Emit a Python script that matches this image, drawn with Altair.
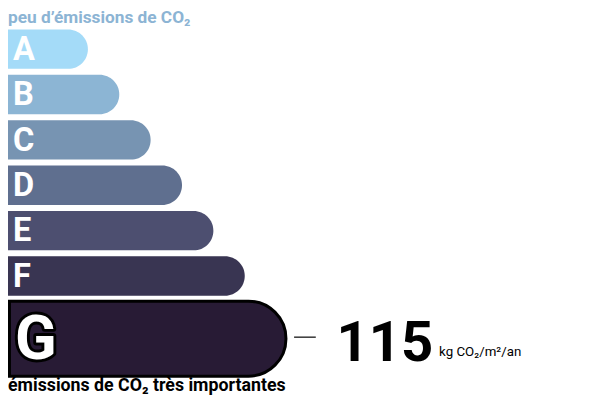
import altair as alt
import pandas as pd

# ---- data ----
classes = ["A", "B", "C", "D", "E", "F", "G"]
ranks = [1, 2, 3, 4, 5, 6, 7]
colors = ["#a4dbf8", "#8cb5d4", "#7794b2", "#5f6f8f", "#4d4f70", "#393552", "#281b35"]
current_class = "G"
current_value = "115"
unit_label = "kg CO₂/m²/an"
top_label = "peu d’émissions de CO₂"
bottom_label = "émissions de CO₂ très importantes"

df = pd.DataFrame({"cls": classes, "rank": ranks, "color": colors})
df_reg = df[df.cls != current_class]
df_cur = df[df.cls == current_class]
df_val = pd.DataFrame({"cls": [current_class], "val": [current_value], "unit": [unit_label]})

FONT = "Roboto"
XMIN, XMAX = -1.547, 17.07

xscale = alt.Scale(domain=[XMIN, XMAX], nice=False, zero=False)
yscale = alt.Scale(domain=classes, range=[16, 338], paddingInner=0, paddingOuter=0)

X = alt.X("rank:Q", scale=xscale, axis=None, stack=None)
Y = alt.Y("cls:N", scale=yscale, axis=None)

bars = alt.Chart(df_reg).mark_bar(
    height=40, cornerRadiusTopRight=20, cornerRadiusBottomRight=20
).encode(
    x=X, x2=alt.datum(XMIN), y=Y,
    color=alt.Color("color:N", scale=None),
)

gbar = alt.Chart(df_cur).mark_bar(
    height=76, yOffset=17.5, x2Offset=1.5, xOffset=10,
    cornerRadiusTopRight=38, cornerRadiusBottomRight=38,
    stroke="#000000", strokeWidth=3,
).encode(
    x=X, x2=alt.datum(XMIN), y=Y,
    color=alt.Color("color:N", scale=None),
)

letters = alt.Chart(df_reg).mark_text(
    font=FONT, fontWeight="bold", fontSize=33, color="white",
    align="left", baseline="middle", dy=1,
).encode(x=alt.value(5), y=Y, text="cls:N")

gletter_outline = alt.Chart(df_cur).mark_text(
    font=FONT, fontWeight="bold", fontSize=62, color="black",
    stroke="black", strokeWidth=6, strokeJoin="round",
    align="left", baseline="middle", dy=19.5,
).encode(x=alt.value(7), y=Y, text="cls:N")

gletter = alt.Chart(df_cur).mark_text(
    font=FONT, fontWeight="bold", fontSize=62, color="white",
    align="left", baseline="middle", dy=19.5,
).encode(x=alt.value(7), y=Y, text="cls:N")

dash = alt.Chart(df_val).mark_rule(color="#333333", strokeWidth=1.5, yOffset=16).encode(
    x=alt.value(290), x2=alt.value(312), y=Y
)

value_txt = alt.Chart(df_val).mark_text(
    font=FONT, fontWeight="bold", fontSize=57, color="black",
    align="left", baseline="alphabetic", dy=40,
).encode(x=alt.value(333), y=Y, text="val:N")

unit_txt = alt.Chart(df_val).mark_text(
    font=FONT, fontSize=13.5, color="black",
    align="left", baseline="alphabetic", dy=35,
).encode(x=alt.value(437), y=Y, text="unit:N")

top_txt = alt.Chart(pd.DataFrame({"t": [top_label]})).mark_text(
    font=FONT, fontWeight="bold", fontSize=17.5, color="#8cb4d4",
    align="left", baseline="alphabetic",
).encode(x=alt.value(0), y=alt.value(13), text="t:N")

bottom_txt = alt.Chart(pd.DataFrame({"t": [bottom_label]})).mark_text(
    font=FONT, fontWeight="bold", fontSize=18, color="black",
    align="left", baseline="alphabetic",
).encode(x=alt.value(0), y=alt.value(386), text="t:N")

chart = alt.layer(
    bars, gbar, letters, gletter_outline, gletter, dash, value_txt, unit_txt, top_txt, bottom_txt
).properties(
    width=592, height=393,
    autosize=alt.AutoSizeParams(type="none"),
    padding=0,
).configure_view(stroke=None)

chart.save("out.html", embed_options={"renderer": "svg", "actions": False})
